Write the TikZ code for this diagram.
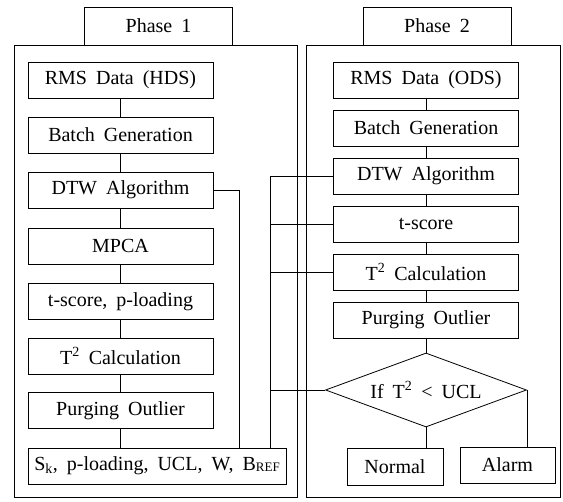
\documentclass[tikz,border=0pt]{standalone}
\usepackage{fontspec}
\setmainfont{Liberation Serif}[WordSpace=1.8]
\usetikzlibrary{shapes.geometric}

\begin{document}
\begin{tikzpicture}[x=1pt,y=-1pt,line width=0.8pt,
  box/.style={rectangle,draw=black,minimum width=185pt,minimum height=36pt,inner sep=0pt,font=\fontsize{20}{22}\selectfont},
  tab/.style={rectangle,draw=black,minimum width=148pt,minimum height=38pt,inner sep=0pt,font=\fontsize{20}{22}\selectfont},
  test/.style={diamond,draw=black,aspect=2.72,minimum width=201pt,minimum height=74pt,inner sep=0pt,font=\fontsize{20}{22}\selectfont}]
\useasboundingbox (0,0) rectangle (563,502);
% frames
\draw (14,45) rectangle (297,497);
\draw (306,45) rectangle (560,497);
\node(tabA) at (158.5,26) [tab]{Phase 1};
\node(tabB) at (437,26) [tab]{Phase 2};
% phase 1
\node(rmsA) at (120.5,80) [box]{RMS Data (HDS)};
\node(batchA) at (120.5,135) [box]{Batch Generation};
\node(dtwA) at (120.5,190) [box]{DTW Algorithm};
\node(mpcaA) at (120.5,246) [box]{MPCA};
\node(tsA) at (120.5,301.5) [box]{t-score, p-loading};
\node(t2A) at (120.5,356) [box]{T\textsuperscript{2} Calculation};
\node(purgeA) at (120.5,410.5) [box]{Purging Outlier};
\node(skA) at (157,466) [box,minimum width=258pt]{S\textsubscript{k}, p-loading, UCL, W, B\raisebox{-1pt}{\fontsize{13}{13}\selectfont REF}};
% phase 2
\node(rmsB) at (426,80) [box]{RMS Data (ODS)};
\node(batchB) at (426,128) [box]{Batch Generation};
\node(dtwB) at (426,176) [box]{DTW Algorithm};
\node(tsB) at (426,224) [box]{t-score};
\node(t2B) at (426,272) [box]{T\textsuperscript{2} Calculation};
\node(purgeB) at (426,320) [box]{Purging Outlier};
\node(ifB) at (426,390) [test]{If T\textsuperscript{2} < UCL};
\node(normalB) at (395,466.5) [box,minimum width=96pt,minimum height=37pt]{Normal};
\node(alarmB) at (507.5,465) [box,minimum width=95pt]{Alarm};
\coordinate(busA) at (239,466);
\coordinate(busB) at (270,466);
% links
\draw (rmsA.south) -- (batchA.north);
\draw (batchA.south) -- (dtwA.north);
\draw (dtwA.south) -- (mpcaA.north);
\draw (mpcaA.south) -- (tsA.north);
\draw (tsA.south) -- (t2A.north);
\draw (t2A.south) -- (purgeA.north);
\draw (purgeA.south) -- (purgeA.south |- skA.north);
\draw (rmsB.south) -- (batchB.north);
\draw (batchB.south) -- (dtwB.north);
\draw (dtwB.south) -- (tsB.north);
\draw (tsB.south) -- (t2B.north);
\draw (t2B.south) -- (purgeB.north);
\draw (purgeB.south) -- (ifB.north);
\draw (ifB.south) -- (ifB.south |- normalB.north);
\draw (ifB.east) -- (ifB.east |- alarmB.north);
\draw (dtwA.east) -| (busA |- skA.north);
\draw (busB |- skA.north) |- (dtwB.west);
\draw (busB |- tsB.west) -- (tsB.west);
\draw (busB |- t2B.west) -- (t2B.west);
\draw (busB |- ifB.west) -- (ifB.west);
\end{tikzpicture}
\end{document}
